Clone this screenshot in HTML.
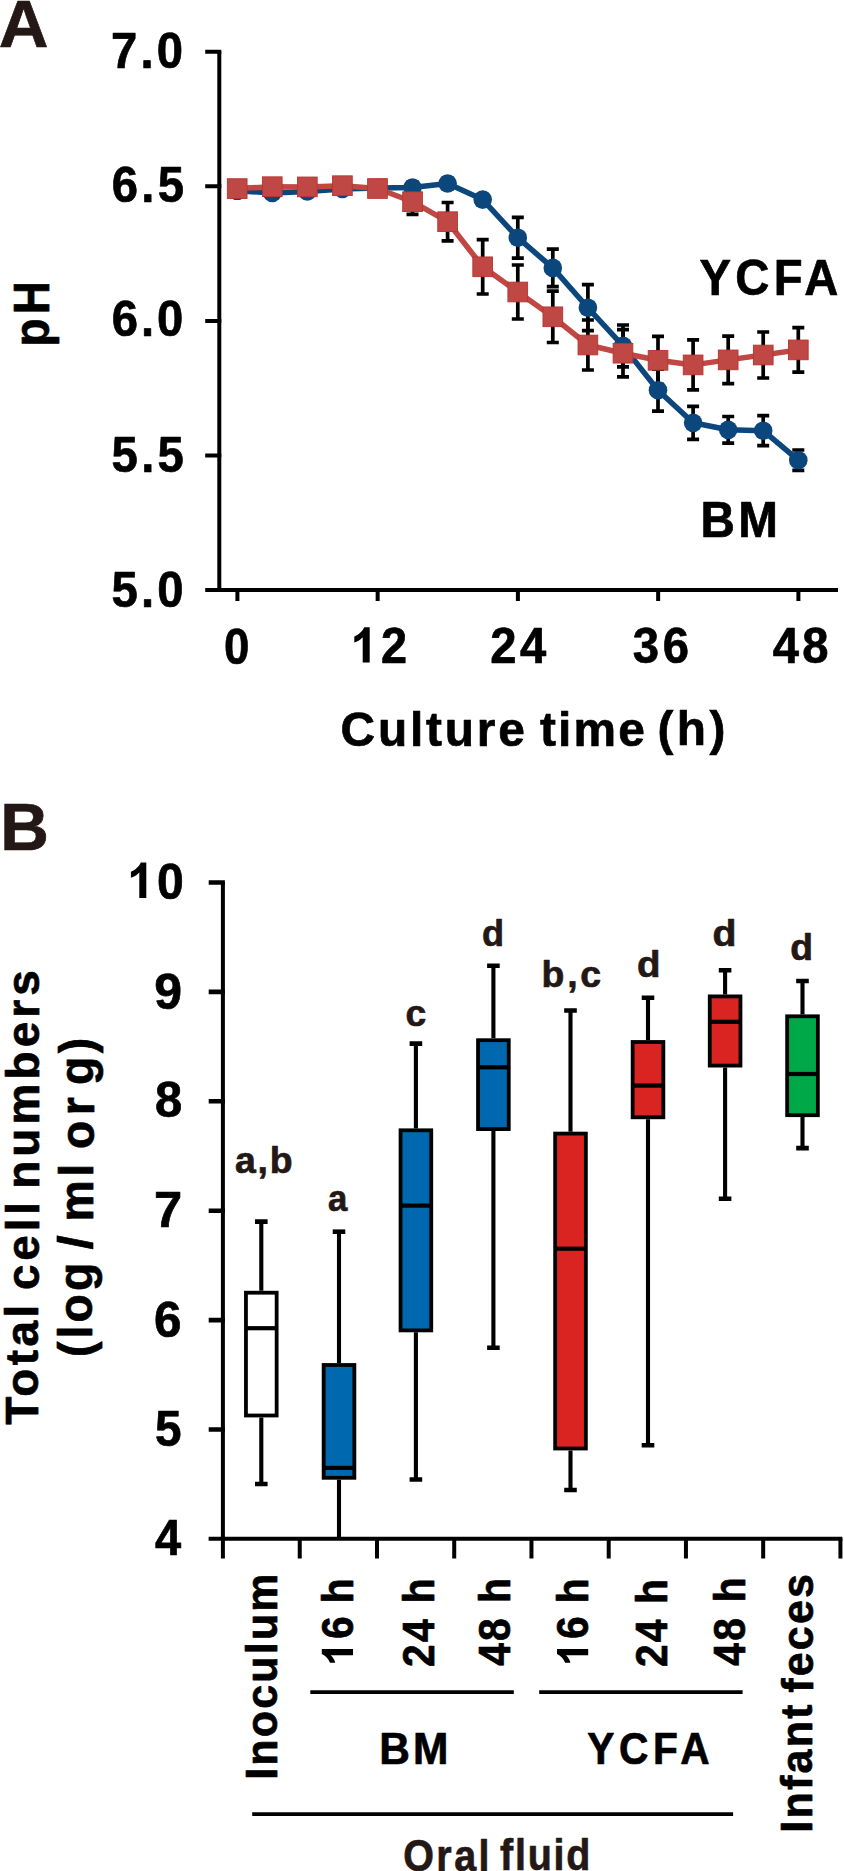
<!DOCTYPE html>
<html><head><meta charset="utf-8"><style>
html,body{margin:0;padding:0;background:#fff;width:844px;height:1871px;overflow:hidden}
svg{display:block}
.t{font-family:"Liberation Sans",sans-serif;font-weight:bold;stroke-width:0.7px;stroke-linejoin:round}
</style></head><body>
<svg width="844" height="1871" viewBox="0 0 844 1871" fill="#000">
<rect width="844" height="1871" fill="#fff"/>
<path d="M219.3 51.599999999999994V590" stroke="#000" stroke-width="4"/>
<path d="M205.2 51.80H221.3M205.2 186.35H221.3M205.2 320.90H221.3M205.2 455.45H221.3" stroke="#000" stroke-width="4"/>
<path d="M205.2 590H838" stroke="#000" stroke-width="4"/>
<path d="M237.40 590V601M377.65 590V601M517.90 590V601M658.15 590V601M798.40 590V601" stroke="#000" stroke-width="4"/>
<path d="M412.5 189.1V214.3M406.5 189.1H418.5M406.5 214.3H418.5M447.6 202.5V240.9M441.6 202.5H453.6M441.6 240.9H453.6M482.7 239.6V294.0M476.7 239.6H488.7M476.7 294.0H488.7M517.8 265.0V319.0M511.8 265.0H523.8M511.8 319.0H523.8M552.8 291.1V342.5M546.8 291.1H558.8M546.8 342.5H558.8M587.9 320.0V370.0M581.9 320.0H593.9M581.9 370.0H593.9M623.0 329.6V376.8M617.0 329.6H629.0M617.0 376.8H629.0M658.0 336.3V384.3M652.0 336.3H664.0M652.0 384.3H664.0M693.1 339.9V389.9M687.1 339.9H699.1M687.1 389.9H699.1M728.2 336.2V383.6M722.2 336.2H734.2M722.2 383.6H734.2M763.2 332.0V378.0M757.2 332.0H769.2M757.2 378.0H769.2M798.3 327.7V372.1M792.3 327.7H804.3M792.3 372.1H804.3" stroke="#000" stroke-width="3.7" fill="none"/>
<path d="M412.5 182.1V193.1M406.5 182.1H418.5M406.5 193.1H418.5M447.6 178.0V189.0M441.6 178.0H453.6M441.6 189.0H453.6M482.7 194.6V204.6M476.7 194.6H488.7M476.7 204.6H488.7M517.8 217.3V258.1M511.8 217.3H523.8M511.8 258.1H523.8M552.8 249.1V286.7M546.8 249.1H558.8M546.8 286.7H558.8M587.9 284.7V330.7M581.9 284.7H593.9M581.9 330.7H593.9M623.0 325.0V366.8M617.0 325.0H629.0M617.0 366.8H629.0M658.0 369.2V411.2M652.0 369.2H664.0M652.0 411.2H664.0M693.1 406.3V439.3M687.1 406.3H699.1M687.1 439.3H699.1M728.2 416.5V443.1M722.2 416.5H734.2M722.2 443.1H734.2M763.2 415.7V445.7M757.2 415.7H769.2M757.2 445.7H769.2M798.3 450.0V470.4M792.3 450.0H804.3M792.3 470.4H804.3" stroke="#000" stroke-width="3.7" fill="none"/>
<polyline points="237.2,190.8 272.3,192.9 307.3,191.5 342.4,189.0 377.5,188.0 412.5,187.6 447.6,183.5 482.7,199.6 517.8,237.7 552.8,267.9 587.9,307.7 623.0,345.9 658.0,390.2 693.1,422.8 728.2,429.8 763.2,430.7 798.3,460.2" fill="none" stroke="#0B477D" stroke-width="5.5" stroke-linejoin="round"/>
<g fill="#0B477D"><circle cx="237.2" cy="190.8" r="9.3"/><circle cx="272.3" cy="192.9" r="9.3"/><circle cx="307.3" cy="191.5" r="9.3"/><circle cx="342.4" cy="189.0" r="9.3"/><circle cx="377.5" cy="188.0" r="9.3"/><circle cx="412.5" cy="187.6" r="9.3"/><circle cx="447.6" cy="183.5" r="9.3"/><circle cx="482.7" cy="199.6" r="9.3"/><circle cx="517.8" cy="237.7" r="9.3"/><circle cx="552.8" cy="267.9" r="9.3"/><circle cx="587.9" cy="307.7" r="9.3"/><circle cx="623.0" cy="345.9" r="9.3"/><circle cx="658.0" cy="390.2" r="9.3"/><circle cx="693.1" cy="422.8" r="9.3"/><circle cx="728.2" cy="429.8" r="9.3"/><circle cx="763.2" cy="430.7" r="9.3"/><circle cx="798.3" cy="460.2" r="9.3"/></g>
<polyline points="237.2,188.6 272.3,186.7 307.3,186.9 342.4,185.7 377.5,188.5 412.5,201.7 447.6,221.7 482.7,266.8 517.8,292.0 552.8,316.8 587.9,345.0 623.0,353.2 658.0,360.3 693.1,364.9 728.2,359.9 763.2,355.0 798.3,349.9" fill="none" stroke="#C04844" stroke-width="5.5" stroke-linejoin="round"/>
<g fill="#C04844" stroke="#B83330" stroke-width="0.9"><rect x="227.35" y="178.75" width="19.7" height="19.7"/><rect x="262.42" y="176.85" width="19.7" height="19.7"/><rect x="297.49" y="177.05" width="19.7" height="19.7"/><rect x="332.56" y="175.85" width="19.7" height="19.7"/><rect x="367.63" y="178.65" width="19.7" height="19.7"/><rect x="402.70" y="191.85" width="19.7" height="19.7"/><rect x="437.77" y="211.85" width="19.7" height="19.7"/><rect x="472.84" y="256.95" width="19.7" height="19.7"/><rect x="507.91" y="282.15" width="19.7" height="19.7"/><rect x="542.98" y="306.95" width="19.7" height="19.7"/><rect x="578.05" y="335.15" width="19.7" height="19.7"/><rect x="613.12" y="343.35" width="19.7" height="19.7"/><rect x="648.19" y="350.45" width="19.7" height="19.7"/><rect x="683.26" y="355.05" width="19.7" height="19.7"/><rect x="718.33" y="350.05" width="19.7" height="19.7"/><rect x="753.40" y="345.15" width="19.7" height="19.7"/><rect x="788.47" y="340.05" width="19.7" height="19.7"/></g>
<path d="M222.9 882.2V1558.6" stroke="#000" stroke-width="4"/>
<path d="M208.7 882.50H224.9M208.7 991.90H224.9M208.7 1101.30H224.9M208.7 1210.70H224.9M208.7 1320.10H224.9M208.7 1429.50H224.9" stroke="#000" stroke-width="4.6"/>
<path d="M208.6 1538.8H842.4" stroke="#000" stroke-width="4"/>
<path d="M299.74 1538.8V1558.6M376.98 1538.8V1558.6M454.22 1538.8V1558.6M531.46 1538.8V1558.6M608.70 1538.8V1558.6M685.94 1538.8V1558.6M763.18 1538.8V1558.6M840.42 1538.8V1558.6" stroke="#000" stroke-width="4"/>
<path d="M261.3 1221.6V1290.8M261.3 1417.4V1484.0" stroke="#000" stroke-width="4.1" fill="none"/>
<path d="M255.0 1221.6H267.6M255.0 1484.0H267.6" stroke="#000" stroke-width="4.6" fill="none"/>
<rect x="245.95" y="1292.70" width="30.70" height="122.80" fill="#fff" stroke="#000" stroke-width="3.8"/>
<path d="M245.95 1328.2H276.65" stroke="#000" stroke-width="4.2"/>
<path d="M339.0 1231.7V1363.1M339.0 1479.7V1540.0" stroke="#000" stroke-width="4.1" fill="none"/>
<path d="M332.7 1231.7H345.3" stroke="#000" stroke-width="4.6" fill="none"/>
<rect x="323.65" y="1365.00" width="30.70" height="112.80" fill="#0068AE" stroke="#000" stroke-width="3.8"/>
<path d="M323.65 1467.9H354.35" stroke="#000" stroke-width="4.2"/>
<path d="M415.9 1043.6V1128.4M415.9 1332.3V1479.5" stroke="#000" stroke-width="4.1" fill="none"/>
<path d="M409.6 1043.6H422.2M409.6 1479.5H422.2" stroke="#000" stroke-width="4.6" fill="none"/>
<rect x="400.55" y="1130.30" width="30.70" height="200.10" fill="#0068AE" stroke="#000" stroke-width="3.8"/>
<path d="M400.55 1205.6H431.25" stroke="#000" stroke-width="4.2"/>
<path d="M493.4 965.8V1038.3M493.4 1131.0V1347.7" stroke="#000" stroke-width="4.1" fill="none"/>
<path d="M487.1 965.8H499.7M487.1 1347.7H499.7" stroke="#000" stroke-width="4.6" fill="none"/>
<rect x="478.05" y="1040.20" width="30.70" height="88.90" fill="#0068AE" stroke="#000" stroke-width="3.8"/>
<path d="M478.05 1067.3H508.75" stroke="#000" stroke-width="4.2"/>
<path d="M570.5 1010.5V1131.7M570.5 1450.4V1490.0" stroke="#000" stroke-width="4.1" fill="none"/>
<path d="M564.2 1010.5H576.8M564.2 1490.0H576.8" stroke="#000" stroke-width="4.6" fill="none"/>
<rect x="555.15" y="1133.60" width="30.70" height="314.90" fill="#DA2422" stroke="#000" stroke-width="3.8"/>
<path d="M555.15 1248.7H585.85" stroke="#000" stroke-width="4.2"/>
<path d="M648.0 997.8V1040.1M648.0 1119.2V1445.2" stroke="#000" stroke-width="4.1" fill="none"/>
<path d="M641.7 997.8H654.3M641.7 1445.2H654.3" stroke="#000" stroke-width="4.6" fill="none"/>
<rect x="632.65" y="1042.00" width="30.70" height="75.30" fill="#DA2422" stroke="#000" stroke-width="3.8"/>
<path d="M632.65 1085.6H663.35" stroke="#000" stroke-width="4.2"/>
<path d="M725.1 970.3V994.5M725.1 1067.5V1198.8" stroke="#000" stroke-width="4.1" fill="none"/>
<path d="M718.8 970.3H731.4M718.8 1198.8H731.4" stroke="#000" stroke-width="4.6" fill="none"/>
<rect x="709.75" y="996.40" width="30.70" height="69.20" fill="#DA2422" stroke="#000" stroke-width="3.8"/>
<path d="M709.75 1021.8H740.45" stroke="#000" stroke-width="4.2"/>
<path d="M802.5 981.0V1014.4M802.5 1117.1V1148.1" stroke="#000" stroke-width="4.1" fill="none"/>
<path d="M796.2 981.0H808.8M796.2 1148.1H808.8" stroke="#000" stroke-width="4.6" fill="none"/>
<rect x="787.15" y="1016.30" width="30.70" height="98.90" fill="#00A848" stroke="#000" stroke-width="3.8"/>
<path d="M787.15 1074.0H817.85" stroke="#000" stroke-width="4.2"/>
<path d="M310.3 1692.1H513.8M539.2 1692.1H742.6M252.2 1814.2H733.1" stroke="#000" stroke-width="3.8"/>
<path d="M0 0H-0.1977V-0.7147C-0.274 -0.63 -0.3588 -0.5876 -0.435 -0.5706V-0.7373C-0.3164 -0.7853 -0.2034 -0.8842 -0.1554 -1H0Z" transform="translate(369.7,662.6) scale(35.4)"/>
<path d="M0 0H-0.1977V-0.7147C-0.274 -0.63 -0.3588 -0.5876 -0.435 -0.5706V-0.7373C-0.3164 -0.7853 -0.2034 -0.8842 -0.1554 -1H0Z" transform="translate(146.3,897.9) scale(35.4)"/>
<path d="M0 0H-0.1977V-0.7147C-0.274 -0.63 -0.3588 -0.5876 -0.435 -0.5706V-0.7373C-0.3164 -0.7853 -0.2034 -0.8842 -0.1554 -1H0Z" transform="translate(353.0,1649.1) rotate(-90) scale(31.2)"/>
<path d="M0 0H-0.1977V-0.7147C-0.274 -0.63 -0.3588 -0.5876 -0.435 -0.5706V-0.7373C-0.3164 -0.7853 -0.2034 -0.8842 -0.1554 -1H0Z" transform="translate(588.2,1649.1) rotate(-90) scale(31.2)"/>
<g class="t" stroke="#000">
<text transform="translate(-1.27,46.60) scale(1.0454,1)" font-size="65.93" fill="#231815" stroke="#231815">A</text>
<text transform="translate(110.90,68.19) scale(0.9300,1)" font-size="50.80" letter-spacing="3.50">7.0</text>
<text transform="translate(111.81,202.31) scale(0.9300,1)" font-size="50.80" letter-spacing="3.48">6.5</text>
<text transform="translate(111.87,336.00) scale(0.9300,1)" font-size="50.80" letter-spacing="3.02">6.0</text>
<text transform="translate(111.58,471.53) scale(0.9300,1)" font-size="50.80" letter-spacing="3.55">5.5</text>
<text transform="translate(111.57,607.07) scale(0.9300,1)" font-size="50.80" letter-spacing="3.38">5.0</text>
<text transform="translate(223.99,663.51) scale(0.8990,1)" font-size="50.80" letter-spacing="1.00">0</text>
<text transform="translate(381.10,662.51) scale(0.9226,1)" font-size="50.80">2</text>
<text transform="translate(490.30,663.32) scale(0.9300,1)" font-size="50.80" letter-spacing="3.76">24</text>
<text transform="translate(632.71,662.80) scale(0.9300,1)" font-size="50.80" letter-spacing="4.17">36</text>
<text transform="translate(772.71,662.80) scale(0.9300,1)" font-size="50.80" letter-spacing="3.49">48</text>
<text transform="translate(340.60,745.90) scale(0.9800,1)" font-size="48.80" letter-spacing="2.88">Culture</text>
<text transform="translate(540.00,746.30) scale(0.9800,1)" font-size="48.80" letter-spacing="2.20">time</text>
<text transform="translate(657.40,745.10) scale(0.9800,1)" font-size="48.80" letter-spacing="3.56">(h)</text>
<text transform="translate(48.55,346.39) rotate(-90) scale(0.9300,1)" font-size="49.27" letter-spacing="4.56">pH</text>
<text transform="translate(699.62,294.59) scale(0.9300,1)" font-size="50.80" letter-spacing="4.56">YCFA</text>
<text transform="translate(700.53,537.49) scale(0.9700,1)" font-size="49.15" letter-spacing="3.37">BM</text>
<text transform="translate(0.23,850.21) scale(1.0082,1)" font-size="66.81" fill="#231815" stroke="#231815">B</text>
<text transform="translate(156.95,898.50) scale(0.9473,1)" font-size="50.80">0</text>
<text transform="translate(154.15,1008.81) scale(0.9830,1)" font-size="50.80" letter-spacing="1.00">9</text>
<text transform="translate(154.96,1117.39) scale(0.9630,1)" font-size="50.80" letter-spacing="1.00">8</text>
<text transform="translate(153.89,1227.13) scale(0.9972,1)" font-size="50.80" letter-spacing="1.00">7</text>
<text transform="translate(154.04,1337.11) scale(0.9721,1)" font-size="50.80" letter-spacing="1.00">6</text>
<text transform="translate(155.05,1445.52) scale(0.9385,1)" font-size="50.80" letter-spacing="1.00">5</text>
<text transform="translate(154.92,1554.70) scale(0.9269,1)" font-size="50.80" letter-spacing="1.00">4</text>
<text transform="translate(38.00,1424.80) rotate(-90) scale(0.9800,1)" font-size="46.80" letter-spacing="3.56">Total</text>
<text transform="translate(38.60,1290.00) rotate(-90) scale(0.9800,1)" font-size="46.80" letter-spacing="3.90">cell</text>
<text transform="translate(38.60,1188.80) rotate(-90) scale(0.9800,1)" font-size="46.80" letter-spacing="4.24">numbers</text>
<text transform="translate(92.20,1357.10) rotate(-90) scale(0.9800,1)" font-size="47.30" letter-spacing="3.22">(log</text>
<text transform="translate(92.30,1249.40) rotate(-90) scale(1.0809,1)" font-size="47.30" letter-spacing="0.50">/</text>
<text transform="translate(93.20,1221.40) rotate(-90) scale(0.9800,1)" font-size="47.30" letter-spacing="3.56">ml</text>
<text transform="translate(93.50,1149.10) rotate(-90) scale(0.9800,1)" font-size="47.30" letter-spacing="5.60">or</text>
<text transform="translate(92.50,1085.00) rotate(-90) scale(0.9800,1)" font-size="47.30" letter-spacing="3.56">g)</text>
<text transform="translate(276.70,1779.79) rotate(-90) scale(0.9800,1)" font-size="43.80" letter-spacing="2.27">Inoculum</text>
<text transform="translate(353.44,1638.90) rotate(-90) scale(0.9300,1)" font-size="43.80" letter-spacing="0.92">6 h</text>
<text transform="translate(433.70,1667.05) rotate(-90) scale(0.9300,1)" font-size="43.80" letter-spacing="2.54">24 h</text>
<text transform="translate(510.14,1665.70) rotate(-90) scale(0.9300,1)" font-size="43.80" letter-spacing="2.17">48 h</text>
<text transform="translate(588.30,1638.90) rotate(-90) scale(0.9300,1)" font-size="43.80" letter-spacing="0.92">6 h</text>
<text transform="translate(666.50,1666.98) rotate(-90) scale(0.9300,1)" font-size="43.80" letter-spacing="2.31">24 h</text>
<text transform="translate(744.69,1665.81) rotate(-90) scale(0.9300,1)" font-size="43.80" letter-spacing="2.47">48 h</text>
<text transform="translate(812.10,1832.80) rotate(-90) scale(0.9800,1)" font-size="43.80" letter-spacing="2.34">Infant</text>
<text transform="translate(812.80,1692.80) rotate(-90) scale(0.9800,1)" font-size="43.80" letter-spacing="2.29">feces</text>
<text transform="translate(379.31,1764.09) scale(0.9700,1)" font-size="43.80" letter-spacing="3.22">BM</text>
<text transform="translate(587.35,1763.83) scale(0.9300,1)" font-size="43.80" letter-spacing="4.93">YCFA</text>
<text transform="translate(403.20,1871.20) scale(0.9000,1)" font-size="43.80" letter-spacing="2.75" fill="#231815" stroke="#231815">Oral</text>
<text transform="translate(500.10,1870.00) scale(0.9000,1)" font-size="43.80" letter-spacing="1.94" fill="#231815" stroke="#231815">fluid</text>
<text transform="translate(234.93,1173.43)" font-size="37.40" letter-spacing="1.84" fill="#231815" stroke="#231815">a,b</text>
<text transform="translate(328.03,1210.93) scale(0.9275,1)" font-size="37.40" letter-spacing="1.00" fill="#231815" stroke="#231815">a</text>
<text transform="translate(405.41,1026.22) scale(0.9949,1)" font-size="37.40" letter-spacing="1.00" fill="#231815" stroke="#231815">c</text>
<text transform="translate(481.88,946.33) scale(0.9657,1)" font-size="37.40" letter-spacing="1.00" fill="#231815" stroke="#231815">d</text>
<text transform="translate(541.62,986.62)" font-size="37.40" letter-spacing="2.69" fill="#231815" stroke="#231815">b,c</text>
<text transform="translate(636.94,976.80) scale(1.0275,1)" font-size="37.40" letter-spacing="1.00" fill="#231815" stroke="#231815">d</text>
<text transform="translate(712.57,946.29) scale(1.0476,1)" font-size="37.40" letter-spacing="1.00" fill="#231815" stroke="#231815">d</text>
<text transform="translate(790.31,959.52) scale(0.9964,1)" font-size="37.40" letter-spacing="1.00" fill="#231815" stroke="#231815">d</text>
</g>
</svg></body></html>
